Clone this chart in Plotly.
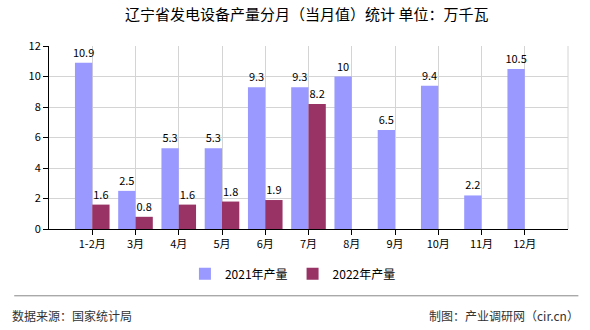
import plotly.graph_objects as go

categories = ["1-2月", "3月", "4月", "5月", "6月", "7月", "8月", "9月", "10月", "11月", "12月"]
values_2021 = [10.9, 2.5, 5.3, 5.3, 9.3, 9.3, 10, 6.5, 9.4, 2.2, 10.5]
values_2022 = [1.6, 0.8, 1.6, 1.8, 1.9, 8.2, None, None, None, None, None]
series_names = ["2021年产量", "2022年产量"]
title_text = "辽宁省发电设备产量分月（当月值）统计 单位：万千瓦"
source_text = "数据来源：国家统计局"
credit_text = "制图：产业调研网（cir.cn）"

FONT = "Noto Sans CJK SC"

def fmt(v):
    if v is None:
        return ""
    return ("%g" % v)

fig = go.Figure()
fig.add_trace(go.Bar(
    x=categories, y=values_2021, name=series_names[0],
    marker=dict(color="#9999FF", line=dict(width=0)),
    text=[fmt(v) for v in values_2021], textposition="outside",
    textfont=dict(size=11, color="#000000", family=FONT),
    constraintext="none", cliponaxis=False,
))
fig.add_trace(go.Bar(
    x=categories, y=values_2022, name=series_names[1],
    marker=dict(color="#993366", line=dict(width=0)),
    text=[fmt(v) for v in values_2022], textposition="outside",
    textfont=dict(size=11, color="#000000", family=FONT),
    constraintext="none", cliponaxis=False,
))

fig.update_layout(
    width=590, height=330,
    margin=dict(l=49, r=22, t=46, b=101),
    paper_bgcolor="#ffffff", plot_bgcolor="#ffffff",
    font=dict(family=FONT, size=11, color="#000000"),
    barmode="group", bargap=0.2, bargroupgap=0,
    title=dict(text=title_text, x=0.52, xanchor="center", y=0.955, yanchor="middle",
               font=dict(size=15, color="#000000", family=FONT)),
    showlegend=True,
    legend=dict(orientation="h", x=0.47, xanchor="center", y=-0.245, yanchor="middle",
                font=dict(size=12, color="#000000", family=FONT),
                itemwidth=30, bgcolor="rgba(0,0,0,0)"),
)
fig.update_xaxes(
    type="category", range=[-1, 11],
    showgrid=True, gridcolor="#d4d4d4", gridwidth=1,
    showline=True, linecolor="#000000", linewidth=1,
    ticks="outside", ticklen=5, tickcolor="#000000",
    tickfont=dict(size=11, color="#000000", family=FONT),
    fixedrange=True,
)
fig.update_yaxes(
    range=[0, 12], dtick=2, tick0=0,
    showgrid=True, gridcolor="#d4d4d4", gridwidth=1,
    showline=True, linecolor="#000000", linewidth=1,
    ticks="outside", ticklen=5, tickcolor="#000000",
    tickfont=dict(size=11, color="#000000", family=FONT),
    zeroline=False,
)

# right border of plot area (light grid line)
fig.add_shape(type="line", xref="paper", yref="paper", x0=1, x1=1, y0=0, y1=1,
              line=dict(color="#d4d4d4", width=1))
# separator line above footer
fig.add_shape(type="line", xref="paper", yref="paper", x0=-0.067, x1=1.02,
              y0=-0.365, y1=-0.365, line=dict(color="#888888", width=1))

fig.add_annotation(text=source_text, xref="paper", yref="paper", x=-0.075, y=-0.47,
                   xanchor="left", yanchor="middle", showarrow=False,
                   font=dict(size=12, color="#333333", family=FONT))
fig.add_annotation(text=credit_text, xref="paper", yref="paper", x=1.025, y=-0.47,
                   xanchor="right", yanchor="middle", showarrow=False,
                   font=dict(size=12, color="#333333", family=FONT))

fig.write_html("out.html")
